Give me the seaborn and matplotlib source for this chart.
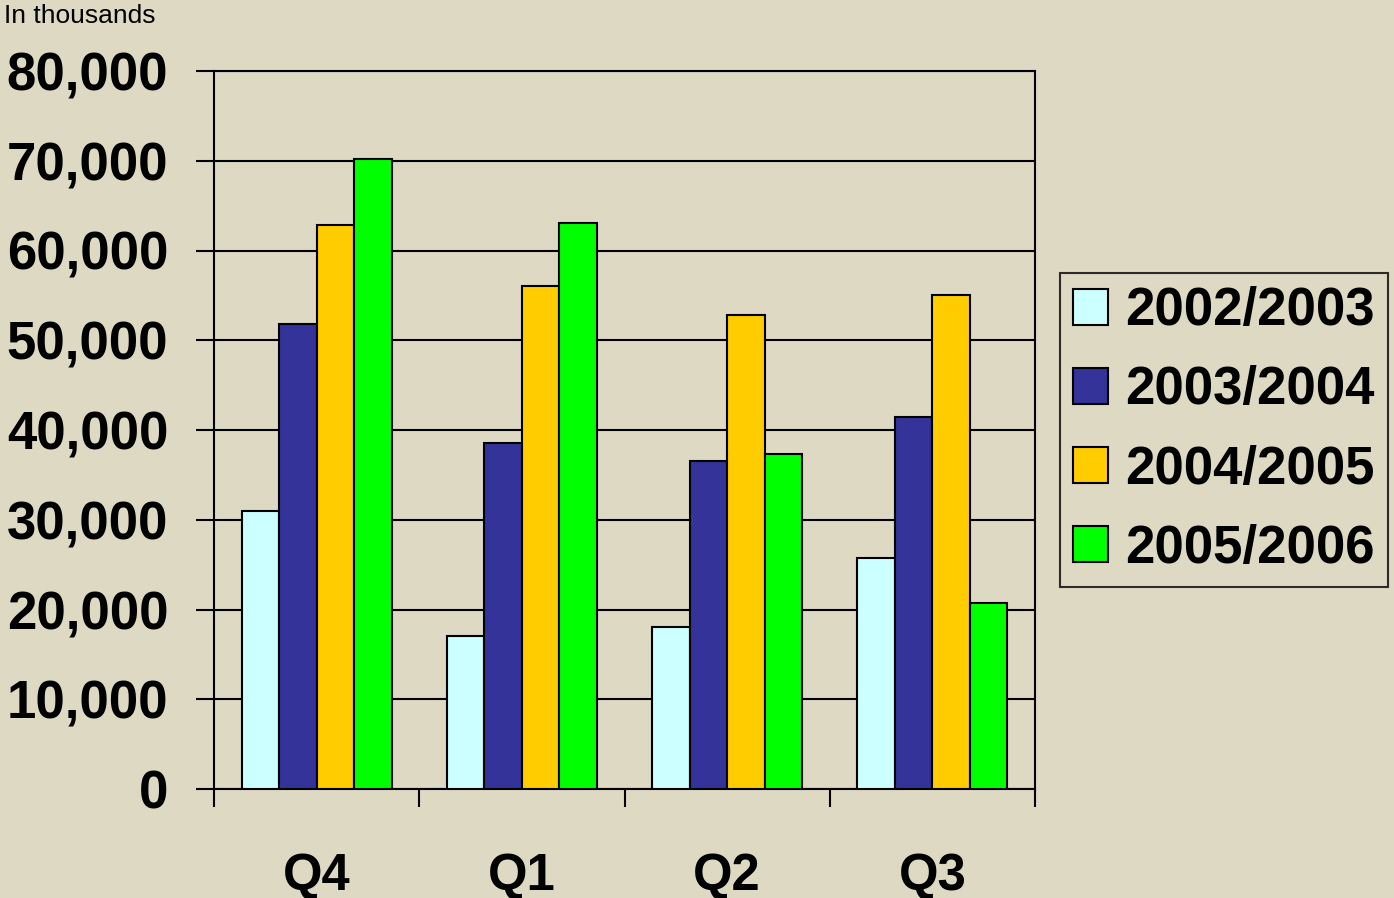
import matplotlib
matplotlib.use("Agg")
import matplotlib.pyplot as plt
import seaborn as sns
import pandas as pd
import numpy as np
from matplotlib.ticker import FuncFormatter, FixedLocator

quarters = ["Q4", "Q1", "Q2", "Q3"]
seasons = ["2002/2003", "2003/2004", "2004/2005", "2005/2006"]
v_2002_2003 = [31000, 17100, 18100, 25700]
v_2003_2004 = [51800, 38600, 36600, 41400]
v_2004_2005 = [62800, 56000, 52800, 55000]
v_2005_2006 = [70200, 63100, 37300, 20700]
colors = ["#CCFFFF", "#333399", "#FFCC00", "#00FF00"]
y_ticks = [0, 10000, 20000, 30000, 40000, 50000, 60000, 70000, 80000]

series = [v_2002_2003, v_2003_2004, v_2004_2005, v_2005_2006]
rows = []
for s, vals in zip(seasons, series):
    for q, v in zip(quarters, vals):
        rows.append({"Quarter": q, "Season": s, "Value": v})
df = pd.DataFrame(rows)

bg = "#DDD9C3"
sns.set_style("white")
plt.rcParams["font.family"] = ["Liberation Sans", "DejaVu Sans"]
plt.rcParams["text.color"] = "black"
plt.rcParams["xtick.color"] = "black"
plt.rcParams["ytick.color"] = "black"
plt.rcParams["axes.labelcolor"] = "black"

fig = plt.figure(figsize=(13.94, 8.98), dpi=100, facecolor=bg)
ax = fig.add_axes([214/1394, 1-789/898, (1035-214)/1394, (789-71)/898])
ax.set_facecolor(bg)

sns.barplot(data=df, x="Quarter", y="Value", hue="Season", order=quarters,
            hue_order=seasons, palette=colors, width=0.73, ax=ax,
            edgecolor="black", linewidth=1.5, saturation=1, errorbar=None,
            zorder=3)

ax.set_xlim(-0.5, 3.5)
ax.set_ylim(0, 80000)
ax.yaxis.set_major_locator(FixedLocator(y_ticks))
ax.yaxis.set_major_formatter(FuncFormatter(lambda v, p: f"{int(v):,}"))
ax.grid(axis="y", color="black", linewidth=1.5, zorder=0)
ax.set_axisbelow(True)
for sp in ax.spines.values():
    sp.set_visible(True)
    sp.set_color("black")
    sp.set_linewidth(1.5)

ax.set_xlabel("")
ax.set_ylabel("")
ax.tick_params(axis="y", which="major", length=13, width=1.5, color="black",
               pad=20, labelsize=38, labelcolor="black", left=True)
for lab in ax.get_yticklabels():
    lab.set_fontweight("bold")

ax.set_xticks(range(4))
ax.set_xticklabels(quarters, fontsize=36.5, fontweight="bold", color="black")
ax.tick_params(axis="x", which="major", length=0, pad=45, labelcolor="black")
ax.set_xticks([-0.5, 0.5, 1.5, 2.5, 3.5], minor=True)
ax.tick_params(axis="x", which="minor", length=13, width=1.5, color="black", bottom=True)

fig.text(4/1394, 1-16/898, "In thousands", fontsize=19, va="center", ha="left",
         color="black")

handles, labels = ax.get_legend_handles_labels()
if ax.get_legend() is not None:
    ax.get_legend().remove()
leg = fig.legend(handles, labels, loc="center left",
                 bbox_to_anchor=(1060/1394, 1-430/898),
                 prop={"family": "Liberation Sans", "weight": "bold", "size": 38},
                 frameon=True, fancybox=False, edgecolor="black", facecolor=bg,
                 handlelength=0.65, handleheight=0.65, handletextpad=0.33,
                 labelspacing=0.55, borderpad=0.25, borderaxespad=0)
leg.get_frame().set_linewidth(1.5)
for t in leg.get_texts():
    t.set_color("black")

fig.savefig("out.png", dpi=100, facecolor=bg)
